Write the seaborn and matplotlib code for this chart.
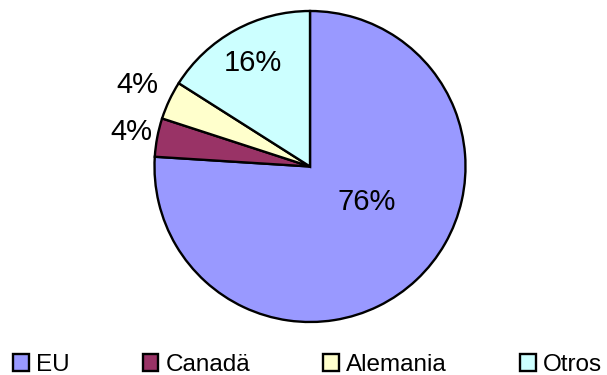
import numpy as np
import matplotlib
matplotlib.use("Agg")
import matplotlib.pyplot as plt
import seaborn as sns

# Share of exports by destination
categories = ["EU", "Canadä", "Alemania", "Otros"]
shares = [76, 4, 4, 16]
labels = ["76%", "4%", "4%", "16%"]
colors = ["#9999FF", "#993366", "#FFFFCC", "#CCFFFF"]

# label placement: distance from centre (in radii) and angular shift (deg)
label_radius = [0.43, 1.17, 1.23, 0.76]
label_shift = [15.0, 0.0, 0.0, 0.0]

sns.set_theme(style="white")
plt.rcParams["font.family"] = ["Liberation Sans", "DejaVu Sans"]
plt.rcParams["text.color"] = "black"

W, H = 607, 375
fig = plt.figure(figsize=(W / 100, H / 100), dpi=100)
cx, cy, r = 310, 166.5, 155.5
ax = fig.add_axes([(cx - r) / W, (H - cy - r) / H, 2 * r / W, 2 * r / H])

wedges, _ = ax.pie(
    shares,
    colors=colors,
    startangle=90,
    counterclock=False,
    radius=1.0,
    wedgeprops=dict(edgecolor="black", linewidth=1.7),
)
ax.set_xlim(-1, 1)
ax.set_ylim(-1, 1)
ax.set_aspect("equal")
ax.axis("off")

for w, lab, d, s in zip(wedges, labels, label_radius, label_shift):
    mid = np.deg2rad((w.theta1 + w.theta2) / 2 + s)
    ax.text(d * np.cos(mid), d * np.sin(mid), lab, ha="center", va="center",
            fontsize=21, color="black", clip_on=False)

leg = fig.legend(
    wedges, categories,
    loc="center", bbox_to_anchor=(307.5 / W, 1 - 365 / H),
    ncol=4, frameon=False, fontsize=17.5, labelcolor="black",
    handlelength=0.65, handleheight=0.65, handletextpad=0.3,
    columnspacing=3.0, borderaxespad=0, borderpad=0,
)
for h in leg.legend_handles:
    h.set_linewidth(1.7)
    h.set_edgecolor("black")

fig.savefig("out.png", dpi=100)
